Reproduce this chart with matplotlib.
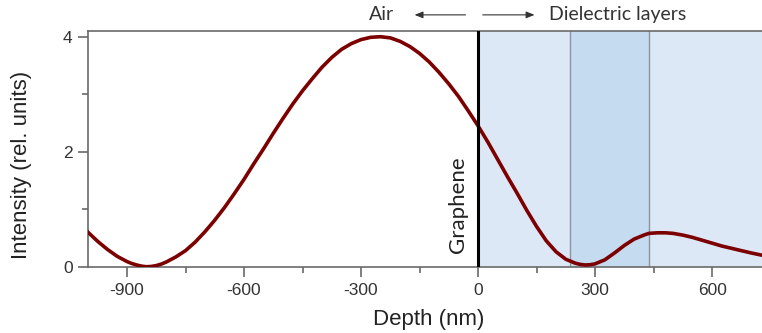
import numpy as np
import matplotlib
matplotlib.use("Agg")
import matplotlib.pyplot as plt
from matplotlib.ticker import MultipleLocator

plt.rcParams["axes.unicode_minus"] = False

# intensity profile (depth in nm)
depth = [-1000, -975, -950, -925, -900, -887.5, -875, -862.5, -850, -837.5,
         -825, -812.5, -800, -775, -750, -725, -700, -675, -650, -625, -600,
         -575, -550, -525, -500, -475, -450, -425, -400, -375, -350, -325,
         -300, -275, -250, -225, -200, -175, -150, -125, -100, -75, -50, -25, 0,
         25, 50, 75, 100, 125, 150, 175, 200, 225, 250, 262.5, 275, 287.5,
         300, 325, 350, 375, 400, 425, 438, 460, 480, 500, 525, 550, 575,
         600, 625, 650, 675, 700, 728]
intensity = [0.60, 0.44, 0.30, 0.18, 0.09, 0.055, 0.03, 0.01, 0.00, 0.005,
             0.02, 0.045, 0.08, 0.17, 0.28, 0.43, 0.61, 0.81, 1.03, 1.27, 1.52,
             1.79, 2.05, 2.32, 2.58, 2.83, 3.06, 3.27, 3.47, 3.64, 3.78, 3.88,
             3.95, 3.99, 4.00, 3.98, 3.92, 3.83, 3.71, 3.56, 3.38, 3.18, 2.96,
             2.71, 2.45,
             2.17, 1.87, 1.57, 1.28, 0.98, 0.70, 0.45, 0.26, 0.13, 0.06, 0.04,
             0.03, 0.035, 0.05, 0.12, 0.24, 0.37, 0.48, 0.55, 0.58, 0.59, 0.59,
             0.58, 0.55, 0.51, 0.46, 0.41, 0.36, 0.32, 0.28, 0.24, 0.20]

# layer boundaries (nm)
layer_edges = [0, 237, 438, 728]
layer_colors = ["#dce8f5", "#c4dbf0", "#dce8f5"]

fig = plt.figure(figsize=(7.62, 3.33), dpi=100)
ax = fig.add_axes([0.1155, 0.199, 0.8845, 0.708])

for i in range(len(layer_colors)):
    ax.axvspan(layer_edges[i], layer_edges[i + 1], color=layer_colors[i], lw=0, zorder=0)
for e in layer_edges[1:3]:
    ax.axvline(e, color="#8c969e", lw=1.0, zorder=1)

ax.plot(depth, intensity, color="#7d0000", lw=2.6, zorder=3,
        solid_joinstyle="round")
ax.axvline(0, color="black", lw=2.2, zorder=4)

ax.set_xlim(-1000, 728)
ax.set_ylim(0, 4.1)

ax.xaxis.set_major_locator(MultipleLocator(300))
ax.xaxis.set_minor_locator(MultipleLocator(150))
ax.yaxis.set_major_locator(MultipleLocator(2))
ax.yaxis.set_minor_locator(MultipleLocator(1))

spine_col = "#6a6a6a"
for s in ["left", "bottom", "top"]:
    ax.spines[s].set_color(spine_col)
    ax.spines[s].set_linewidth(1.2)
ax.spines["right"].set_visible(False)

ax.tick_params(which="major", direction="out", length=7, width=1.2, color=spine_col,
               labelsize=12.5, labelcolor="#333333", pad=5)
ax.tick_params(axis="y", which="major", pad=4)
ax.tick_params(which="minor", direction="out", length=4, width=1.2, color=spine_col)
for lbl in ax.get_xticklabels() + ax.get_yticklabels():
    lbl.set_family("Liberation Sans")

ax.set_xlabel("Depth (nm)", fontsize=16, family="Liberation Sans", color="#222222")
ax.set_ylabel("Intensity (rel. units)", fontsize=16, family="Liberation Sans", color="#222222")
ax.xaxis.set_label_coords(0.506, -0.178)
ax.yaxis.set_label_coords(-0.083, 0.43)

ax.text(-25, 0.24, "Graphene", rotation=90, ha="right", va="bottom", fontsize=16,
        family="Lato", color="#222222", zorder=5)

# annotations above the axes
ytop = 4.38
ax.text(-215, ytop, "Air", ha="right", va="center", fontsize=14, family="Lato",
        color="#333333", clip_on=False)
ax.annotate("", xy=(-170, ytop), xytext=(-25, ytop), annotation_clip=False,
            arrowprops=dict(arrowstyle="-|>,head_length=0.5,head_width=0.2",
                            color="#333333", lw=0.8))
ax.annotate("", xy=(152, ytop), xytext=(5, ytop), annotation_clip=False,
            arrowprops=dict(arrowstyle="-|>,head_length=0.5,head_width=0.2",
                            color="#333333", lw=0.8))
ax.text(183, ytop, "Dielectric layers", ha="left", va="center", fontsize=14,
        family="Lato", color="#333333", clip_on=False)

fig.savefig("out.png", dpi=100)
